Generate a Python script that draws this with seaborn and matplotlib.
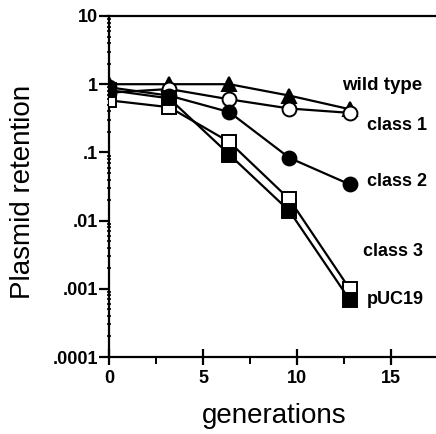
import numpy as np
import pandas as pd
import matplotlib
matplotlib.use("Agg")
import matplotlib.pyplot as plt
import matplotlib.ticker as mticker
import seaborn as sns

sns.set_style("ticks")
plt.rcParams['font.family'] = ['Liberation Sans', 'DejaVu Sans']
plt.rcParams.update({
    "text.color": "black", "axes.labelcolor": "black",
    "xtick.color": "black", "ytick.color": "black",
    "axes.edgecolor": "black",
})

# ---- data ----
generations = [0, 3.2, 6.4, 9.6, 12.8]
wild_type = [1.0, 1.0, 1.0, 0.68, 0.43]
class_1 = [0.75, 0.85, 0.6, 0.44, 0.38]
class_2 = [0.9, 0.68, 0.39, 0.083, 0.034]
class_3 = [0.58, 0.46, 0.142, 0.0205, 0.001]
puc19 = [0.82, 0.62, 0.093, 0.0138, 0.00069]

series_names = ["wild type", "class 1", "class 2", "class 3", "pUC19"]
series_values = [wild_type, class_1, class_2, class_3, puc19]
y_tick_values = [1e-4, 1e-3, 1e-2, 1e-1, 1, 10]
y_tick_labels = [".0001", ".001", ".01", ".1", "1", "10"]
x_tick_values = [0, 5, 10, 15]

# styles
styles = {
    "wild type": dict(marker="^", mfc="black", ms=10.5),
    "class 1": dict(marker="o", mfc="white", ms=10),
    "class 2": dict(marker="o", mfc="black", ms=10),
    "class 3": dict(marker="s", mfc="white", ms=10),
    "pUC19": dict(marker="s", mfc="black", ms=10),
}
label_pos = {
    "wild type": (12.4, 0.97),
    "class 1": (13.7, 0.25),
    "class 2": (13.7, 0.037),
    "class 3": (13.5, 0.0035),
    "pUC19": (13.7, 0.0007),
}

df = pd.DataFrame({
    "generations": np.tile(generations, len(series_names)),
    "retention": np.concatenate(series_values),
    "series": np.repeat(series_names, len(generations)),
})

W, H = 436, 434
fig = plt.figure(figsize=(W / 100, H / 100), dpi=100)
ax = fig.add_axes([109 / W, 1 - 357 / H, (W - 109 + 40) / W, (357 - 16) / H])

for name in series_names:
    sub = df[df["series"] == name]
    st = styles[name]
    sns.lineplot(data=sub, x="generations", y="retention", ax=ax,
                 color="black", linewidth=1.6, marker=st["marker"],
                 markersize=st["ms"], markerfacecolor=st["mfc"],
                 markeredgecolor="black", markeredgewidth=1.4,
                 legend=False, zorder=3)

ax.set_yscale("log")
ax.set_ylim(1e-4, 10)
ax.set_xlim(0, (W - 109 + 40) / 18.8)
ax.set_yticks(y_tick_values)
ax.set_yticklabels(y_tick_labels)
ax.yaxis.set_minor_locator(mticker.LogLocator(base=10, subs=np.arange(2, 10)))
ax.yaxis.set_minor_formatter(mticker.NullFormatter())
ax.set_xticks(x_tick_values)
ax.set_xticks([2.5, 7.5, 12.5, 17.5], minor=True)

for sp in ["left", "bottom", "top"]:
    ax.spines[sp].set_linewidth(1.6)
    ax.spines[sp].set_color("black")
ax.spines["right"].set_visible(False)

ax.tick_params(axis="y", which="major", direction="out", length=7, width=1.6,
               labelsize=13, pad=1)
ax.tick_params(axis="y", which="minor", direction="inout", length=3.5, width=1.2)
ax.tick_params(axis="x", which="major", direction="inout", length=11, width=1.6,
               labelsize=13, pad=4)
ax.tick_params(axis="x", which="minor", direction="out", length=5, width=1.4)
for lab in ax.get_xticklabels() + ax.get_yticklabels():
    lab.set_fontweight("bold")

ax.set_xlabel("generations", fontsize=20)
ax.set_ylabel("Plasmid retention", fontsize=20)
ax.xaxis.set_label_coords(0.45, -0.135)
ax.yaxis.set_label_coords(-0.20, 0.484)

for name in series_names:
    x, y = label_pos[name]
    ax.text(x, y, name, fontsize=13.5 if name == "wild type" else 13,
            fontweight="bold", ha="left", va="center")

fig.savefig("out.png", dpi=100)
